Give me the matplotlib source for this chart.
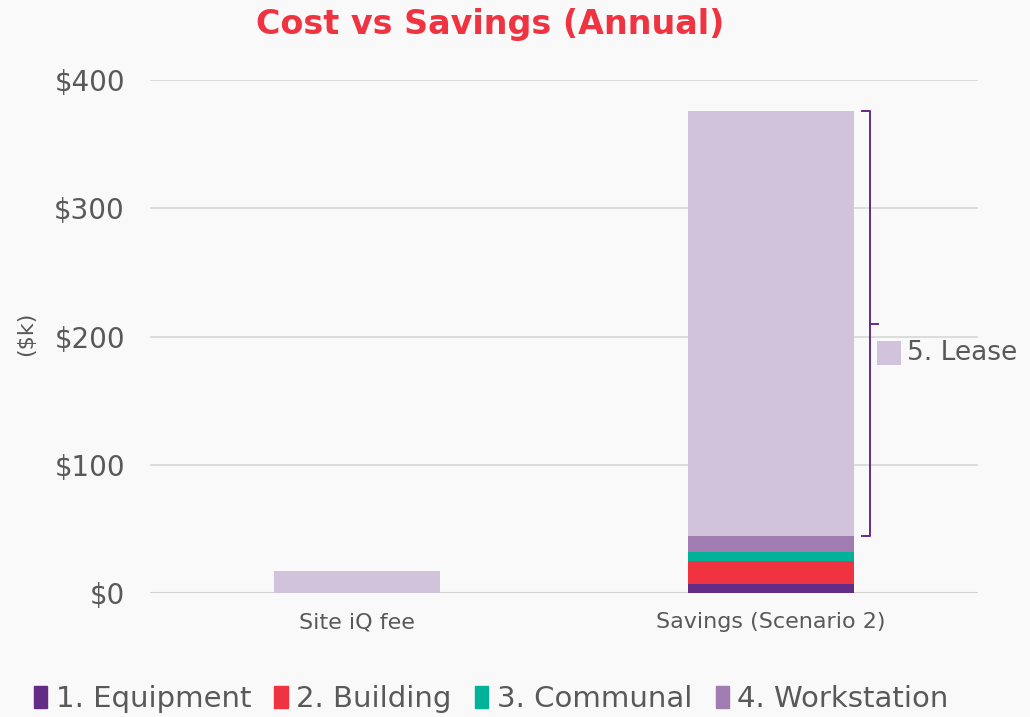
import numpy as np
import matplotlib.pyplot as plt
from matplotlib.patches import Patch

categories = ["Site iQ fee", "Savings (Scenario 2)"]
series = ["1. Equipment", "2. Building", "3. Communal", "4. Workstation", "5. Lease"]
equipment = [0, 7]
building = [0, 18]
communal = [0, 7]
workstation = [0, 12.5]
lease = [17, 331]
colors = ["#642b87", "#ef3340", "#00b398", "#a07cb0", "#d2c3dc"]

plt.rcParams['font.family'] = ['DejaVu Sans']
bg = "#f9f9f9"
txt = "#595959"

fig = plt.figure(figsize=(10.3, 7.17), dpi=100, facecolor=bg)
ax = fig.add_axes([0.1456, 0.1729, 0.804, 0.7155], facecolor=bg)

x = np.arange(len(categories))
bottom = np.zeros(len(categories))
for vals, c in zip([equipment, building, communal, workstation, lease], colors):
    ax.bar(x, vals, width=0.4, bottom=bottom, color=c, zorder=3)
    bottom += np.array(vals)

ax.set_xlim(-0.5, 1.5)
ax.set_ylim(0, 400)
ax.set_yticks([0, 100, 200, 300, 400])
ax.set_yticklabels(["$0", "$100", "$200", "$300", "$400"], fontsize=20, color=txt)
ax.set_xticks(x)
ax.set_xticklabels(categories, fontsize=16, color=txt)
ax.tick_params(axis='x', length=0, pad=14)
ax.tick_params(axis='y', length=0, pad=18)
ax.grid(axis='y', color="#d9d9d9", linewidth=1.3, zorder=0)
for s in ax.spines.values():
    s.set_visible(False)
ax.axhline(0, color="#d0d0d0", linewidth=1.5, zorder=2)
fig.text(0.025, 0.535, "($k)", fontsize=16, color=txt, rotation=90, va='center', ha='center')

# accolade autour du segment "Lease"
lo = equipment[1] + building[1] + communal[1] + workstation[1]
hi = lo + lease[1]
bx = 1.239
ax.plot([1.22, bx, bx, 1.22], [hi, hi, lo, lo], color="#642b87", lw=1.4, zorder=4,
        clip_on=False, solid_joinstyle='round')
mid = (lo + hi) / 2
ax.plot([bx, 1.258], [mid, mid], color="#642b87", lw=1.4, zorder=4, clip_on=False)
ax.scatter([1.284], [mid - 23], marker='s', s=300, color=colors[4], zorder=4, clip_on=False, linewidths=0)
ax.text(1.328, mid - 23, "5. Lease", fontsize=19, color=txt, va='center', ha='left')

fig.text(0.476, 0.966, "Cost vs Savings (Annual)", ha='center', va='center', fontsize=24,
         fontweight='bold', color="#ef3340")

handles = [Patch(color=c, label=l) for c, l in zip(colors[:4], series[:4])]
fig.legend(handles=handles, loc='center', bbox_to_anchor=(0.477, 0.025), ncol=4, frameon=False,
           fontsize=21, handlelength=0.45, handleheight=0.75, handletextpad=0.3, columnspacing=0.8,
           labelcolor=txt, borderpad=0)

fig.savefig("out.png", dpi=100, facecolor=bg)
